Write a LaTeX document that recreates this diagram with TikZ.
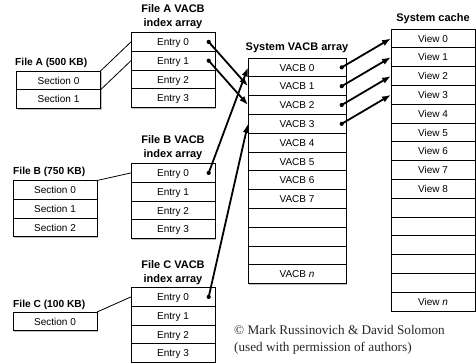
\documentclass[tikz,border=0pt]{standalone}
\usepackage{fontspec}
\setmainfont{Liberation Serif}
\setsansfont{Liberation Sans}
\usetikzlibrary{arrows.meta,positioning,shadows}

\begin{document}
\begin{tikzpicture}[
  x=1pt, y=-1pt,
  font=\sffamily\fontsize{10}{12}\selectfont,
  cell/.style={draw, fill=white, line width=1pt, inner sep=0pt, outer sep=0pt,
    minimum height=18.8pt, text height=7.2pt, text depth=0pt,
    drop shadow={shadow xshift=1.2pt, shadow yshift=-1.2pt, fill=black!25, opacity=1}},
  entry/.style={cell, minimum width=84pt},
  sect/.style={cell, minimum width=84pt},
  vacb/.style={cell, minimum width=98pt},
  view/.style={cell, minimum width=84pt},
  title/.style={font=\sffamily\bfseries\fontsize{11}{14}\selectfont, align=center, inner sep=0pt},
  flabel/.style={font=\sffamily\bfseries\fontsize{10.2}{12}\selectfont, inner sep=0pt, anchor=west},
  dot/.style={circle, fill, inner sep=0pt, minimum size=4.2pt},
  arr/.style={-{Latex[length=9pt, width=6.5pt]}, line width=1.8pt},
  link/.style={line width=0.8pt},
  node distance=0pt
]
\useasboundingbox (0,0) rectangle (476,362);

% file A
\node[title] (atitle) at (173,17) {File A VACB\\index array};
\node[entry, anchor=north west] (ae0) at (131,32.5) {Entry 0};
\node[entry, below=of ae0] (ae1) {Entry 1};
\node[entry, below=of ae1] (ae2) {Entry 2};
\node[entry, below=of ae2] (ae3) {Entry 3};
\node[flabel] (alabel) at (15,63) {File A (500 KB)};
\node[sect, anchor=north west] (as0) at (16.5,71) {Section 0};
\node[sect, below=of as0] (as1) {Section 1};
\draw[link] (as0.north east) -- (ae0.west);
\draw[link] (as1.north east) -- (ae1.west);

% file B
\node[title] (btitle) at (173,148) {File B VACB\\index array};
\node[entry, anchor=north west] (be0) at (131,163.5) {Entry 0};
\node[entry, below=of be0] (be1) {Entry 1};
\node[entry, below=of be1] (be2) {Entry 2};
\node[entry, below=of be2] (be3) {Entry 3};
\node[flabel] (blabel) at (13,172) {File B (750 KB)};
\node[sect, anchor=north west] (bs0) at (13,180.5) {Section 0};
\node[sect, below=of bs0] (bs1) {Section 1};
\node[sect, below=of bs1] (bs2) {Section 2};
\draw[link] (bs0.north east) -- (be0.west);

% file C
\node[title] (ctitle) at (173,272.5) {File C VACB\\index array};
\node[entry, anchor=north west] (ce0) at (131,287.5) {Entry 0};
\node[entry, below=of ce0] (ce1) {Entry 1};
\node[entry, below=of ce1] (ce2) {Entry 2};
\node[entry, below=of ce2] (ce3) {Entry 3};
\node[flabel] (clabel) at (13,305) {File C (100 KB)};
\node[sect, anchor=north west] (cs0) at (13,312) {Section 0};
\draw[link] (cs0.north east) -- (ce0.west);

% system VACB array
\node[title] (vtitle) at (297,48) {System VACB array};
\foreach \t [count=\i from 0] in {VACB 0,VACB 1,VACB 2,VACB 3,VACB 4,VACB 5,VACB 6,VACB 7,{},{},{},VACB \textit{n}}
  \node[vacb, anchor=north west] (vb\i) at (248,{58+18.8*\i}) {\t};

% system cache
\node[title] (stitle) at (433,19) {System cache};
\foreach \t [count=\i from 0] in {View 0,View 1,View 2,View 3,View 4,View 5,View 6,View 7,View 8,{},{},{},{},{},View \textit{n}}
  \node[view, anchor=north west] (vw\i) at (391,{29+18.8*\i}) {\t};

% pointers
\node[dot, left=4pt of ae0.east] (ad0) {};
\node[dot, left=4pt of ae1.east] (ad1) {};
\node[dot, left=4pt of be0.east] (bd0) {};
\node[dot, left=4pt of ce0.east] (cd0) {};
\draw[arr] (ad0.center) -- (vb1.west);
\draw[arr] (ad1.center) -- (vb2.west);
\draw[arr] (bd0.center) -- (vb0.west);
\draw[arr] (cd0.center) -- (vb3.west);
\foreach \i in {0,...,3} {
  \node[dot, left=2pt of vb\i.east] (vd\i) {};
  \draw[arr] (vd\i.center) -- (vw\i.west);
}

\node[anchor=north west, align=left, inner sep=0pt, text=black!85,
  font=\rmfamily\fontsize{13.2}{16.5}\selectfont] (credit) at (234,325.5)
  {© Mark Russinovich \& David Solomon\\(used with permission of authors)};
\end{tikzpicture}
\end{document}
